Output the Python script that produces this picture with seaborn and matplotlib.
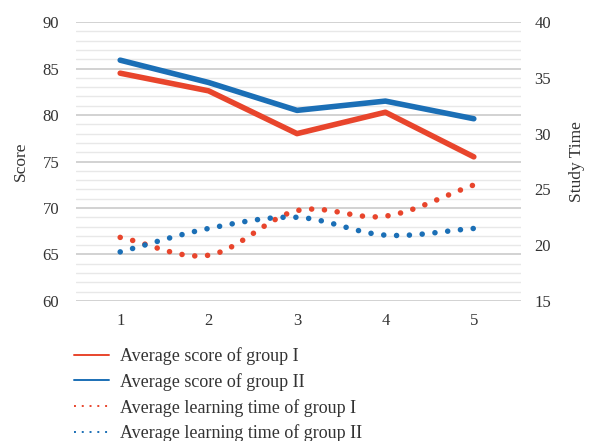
import numpy as np
import pandas as pd
import matplotlib
matplotlib.use("Agg")
import matplotlib.pyplot as plt
import seaborn as sns
from matplotlib.lines import Line2D
from matplotlib.ticker import MultipleLocator

# Test rounds and group averages
rounds = [1, 2, 3, 4, 5]
score_group1 = [84.5, 82.6, 78.0, 80.3, 75.5]
score_group2 = [85.9, 83.5, 80.5, 81.5, 79.6]
time_group1 = [20.7, 19.1, 23.1, 22.6, 25.4]
time_group2 = [19.4, 21.5, 22.5, 20.9, 21.5]

labels = ["Average score of group I", "Average score of group II",
          "Average learning time of group I", "Average learning time of group II"]

RED = "#E8452C"
BLUE = "#1B6FB6"
TEXT = "#333333"


def smooth(x, y, n=20):
    """Catmull-Rom curve through the points (smoothed-line rendering)."""
    x = np.asarray(x, float)
    y = np.asarray(y, float)
    px = np.concatenate([[2 * x[0] - x[1]], x, [2 * x[-1] - x[-2]]])
    py = np.concatenate([[2 * y[0] - y[1]], y, [2 * y[-1] - y[-2]]])
    xs, ys = [], []
    t = np.linspace(0, 1, n, endpoint=False)
    for i in range(1, len(px) - 2):
        for arr, out in ((px, xs), (py, ys)):
            p0, p1, p2, p3 = arr[i - 1], arr[i], arr[i + 1], arr[i + 2]
            out.extend(0.5 * ((2 * p1) + (-p0 + p2) * t
                              + (2 * p0 - 5 * p1 + 4 * p2 - p3) * t ** 2
                              + (-p0 + 3 * p1 - 3 * p2 + p3) * t ** 3))
    xs.append(x[-1])
    ys.append(y[-1])
    return np.array(xs), np.array(ys)


sns.set_theme(style="white")
plt.rcParams["font.family"] = ["Liberation Serif", "DejaVu Serif"]

fig = plt.figure(figsize=(5.89, 4.41), dpi=100)
ax = fig.add_axes([0.129, 0.3175, 0.755, 0.6325])
ax2 = ax.twinx()

scores = pd.DataFrame({"round": rounds * 2,
                       "score": score_group1 + score_group2,
                       "group": ["I"] * 5 + ["II"] * 5})
sns.lineplot(data=scores, x="round", y="score", hue="group",
             palette={"I": RED, "II": BLUE}, linewidth=4.0,
             legend=False, ax=ax, solid_capstyle="round", zorder=3)

dot_style = (0, (0.01, 2.3))
for vals, col in ((time_group1, RED), (time_group2, BLUE)):
    sx, sy = smooth(rounds, vals)
    sns.lineplot(x=sx, y=sy, color=col, linewidth=4.0, linestyle=dot_style,
                 dash_capstyle="round", sort=False, estimator=None,
                 ax=ax2, zorder=3)

ax.set_xlim(0.5, 5.53)
ax.set_ylim(60, 90)
ax2.set_ylim(15, 40)
ax.set_xticks(rounds)
ax.yaxis.set_major_locator(MultipleLocator(5))
ax.yaxis.set_minor_locator(MultipleLocator(1))
ax2.yaxis.set_major_locator(MultipleLocator(5))

ax.grid(which="major", axis="y", color="#CFCFCF", linewidth=1.3, zorder=0)
ax.grid(which="minor", axis="y", color="#E8E8E8", linewidth=1.0, zorder=0)
ax.grid(False, axis="x")
ax2.grid(False)
ax.set_axisbelow(True)

for a in (ax, ax2):
    for s in a.spines.values():
        s.set_visible(False)
    a.tick_params(axis="both", which="both", length=0, labelsize=12,
                  colors=TEXT)
ax.tick_params(axis="y", pad=12)
ax.tick_params(axis="x", pad=9)
ax2.tick_params(axis="y", pad=10)

ax.set_xlabel("")
ax.set_ylabel("Score", fontsize=12.5, color=TEXT, labelpad=10)
ax2.set_ylabel("Study Time", fontsize=12.5, color=TEXT, labelpad=13)

handles = [Line2D([], [], color=RED, linewidth=1.4),
           Line2D([], [], color=BLUE, linewidth=1.4),
           Line2D([], [], color=RED, linewidth=1.4, linestyle=(0, (1, 3))),
           Line2D([], [], color=BLUE, linewidth=1.4, linestyle=(0, (1, 3)))]
fig.legend(handles, labels, loc="upper left", bbox_to_anchor=(0.125, 0.213),
           frameon=False, fontsize=13, handlelength=1.95, handletextpad=0.6,
           labelspacing=0.44, borderaxespad=0, borderpad=0,
           labelcolor=TEXT)

fig.savefig("out.png", dpi=100)
